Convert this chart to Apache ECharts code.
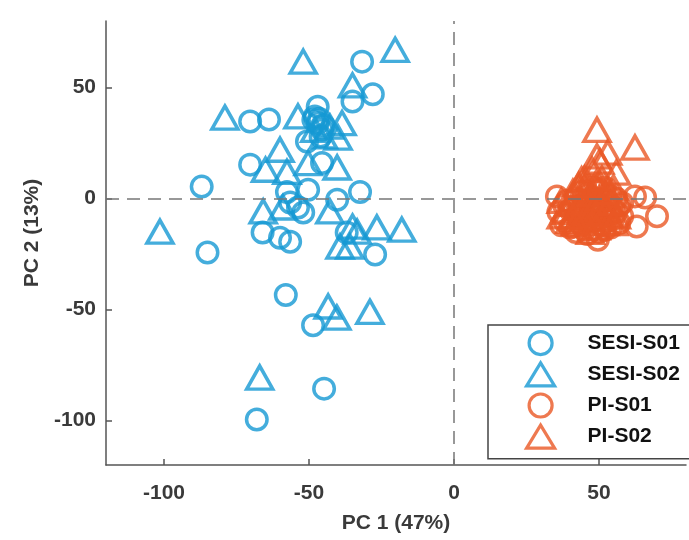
<!DOCTYPE html>
<html>
<head>
<meta charset="utf-8">
<script src="https://cdn.jsdelivr.net/npm/echarts@6/dist/echarts.min.js"></script>
<style>html,body{margin:0;padding:0;background:#fff}#c{width:689px;height:540px}</style>
</head>
<body>
<div id="c"></div>
<script>
// ---- data (PC1, PC2) ----
const seriesNames = ['SESI-S01', 'SESI-S02', 'PI-S01', 'PI-S02'];
const xTicks = [-100, -50, 0, 50];
const yTicks = [-100, -50, 0, 50];
const sesiS01 = [
  [-31.7,61.7],[-28,47],[-35,43.7],[-70.3,34.7],[-63.8,35.6],[-47,41.4],[-48,37],[-47,34],
  [-45.5,31],[-46,28],[-50.7,25.7],[-45.5,16],[-70.3,15.3],[-87,5.4],[-32.4,3],[-57.6,3],
  [-50.3,4],[-40.3,-0.5],[-56.5,-1.8],[-53.8,-4],[-52,-6.3],[-66,-15.3],[-60,-17.6],
  [-56.5,-19.4],[-37,-15.3],[-85,-24.3],[-27.2,-25.2],[-58,-43.4],[-48.6,-57],[-44.8,-85.6],[-68,-99.5],
  [-46.5,36],[-45,33],[-48.5,35.5]
];
const sesiS02 = [
  [-52,61.7],[-20.3,67],[-35,51],[-79,36.5],[-53.8,37],[-38.6,34],[-42.8,32.4],[-45,28],
  [-40,27.5],[-60,22],[-65,13],[-57.6,12],[-50.3,16],[-40.3,14],[-65.8,-5.8],[-59,-4],
  [-42.8,-5.8],[-101.4,-14.9],[-35,-12.6],[-26.6,-13],[-18,-14],[-33.4,-14.9],[-39.3,-21.6],
  [-35.9,-21.6],[-43.4,-48.6],[-40.4,-53.6],[-29,-51],[-67,-80.6],[-48,31]
];
const piS01 = [
  [35.5,1],[62.4,1],[65.9,0.5],[70,-8],[63,-12.6],[57,-11],[49.6,-18.5],[41,-12.6],[43.4,-3.6],
  [40,-5],[42,-8],[45,-2],[47,-6],[50,-3],[52,-8],[55,-4],[48,-10],[44,-12],[53,-1],[46,2],
  [50,4],[56,0],[38,-3],[43,-9],[51,-12],[54,-7],[58,-2],
  [36,-6],[38,-10],[39,-1],[41,-4],[42,0],[44,-6],[45,-14],[46,-10],[47,-2],[48,-14],[49,0],
  [49,-6],[51,-5],[52,-14],[53,-10],[54,1],[55,-9],[56,-6],[57,-3],[44,3],[48,5],[52,5],
  [40,-13],[46,-16],[54,-13],[42,-15],[50,-15],[37,-12],[58,-8],[47,6]
];
const piS02 = [
  [49.3,31],[62.4,23],[53,20.7],[50.3,16.7],[49.3,19],[56,11.7],[44,8.6],[37,-8],[47.6,13],
  [41,3],[45,5],[48,-1],[52,2],[46,-7],[50,-9],[55,5],[43,-4],[49,7],[53,-5],[40,-10],
  [37,-1],[39,-6],[42,-11],[44,-1],[45,-9],[47,2],[48,-5],[50,0],[51,-3],[52,-11],
  [54,-2],[56,-8],[45,9],[51,9],[43,6],[41,-8],[49,-13],[55,-11],[47,-15],[53,3]
];

const BLUE = '#1598d3', ORANGE = '#ea5724';
const FONT = '"Liberation Sans", Arial, Helvetica, sans-serif';
const LABEL_COLOR = '#3a3a3a';

function mk(name, data, color, symbol, size, extra) {
  return Object.assign({
    name, type: 'scatter', data, symbol, symbolSize: size,
    itemStyle: { color: 'rgba(0,0,0,0)', borderColor: color, borderWidth: 3.5 },
    emphasis: { disabled: true }
  }, extra || {});
}

const chart = echarts.init(document.getElementById('c'), null, { renderer: 'canvas' });
chart.setOption({
  animation: false,
  backgroundColor: '#fff',
  grid: { left: 106, right: 3, top: 21, bottom: 75, containLabel: false },
  xAxis: {
    type: 'value', min: -120, max: 80,
    name: 'PC 1 (47%)', nameLocation: 'middle', nameGap: 48,
    nameTextStyle: { fontFamily: FONT, fontWeight: 'bold', fontSize: 21, color: LABEL_COLOR },
    axisLine: { show: true, onZero: false, lineStyle: { color: '#555', width: 1.5 } },
    axisTick: { show: true, inside: true, length: 6, customValues: xTicks, lineStyle: { color: '#555', width: 1.5 } },
    axisLabel: { customValues: xTicks, margin: 18, fontFamily: FONT, fontWeight: 'bold', fontSize: 21, color: LABEL_COLOR },
    splitLine: { show: false }
  },
  yAxis: {
    type: 'value', min: -120, max: 80,
    name: 'PC 2 (13%)', nameLocation: 'middle', nameGap: 62,
    nameTextStyle: { fontFamily: FONT, fontWeight: 'bold', fontSize: 21, color: LABEL_COLOR, padding: [0, 0, 0, 20] },
    axisLine: { show: true, onZero: false, lineStyle: { color: '#555', width: 1.5 } },
    axisTick: { show: true, inside: true, length: 6, customValues: yTicks, lineStyle: { color: '#555', width: 1.5 } },
    axisLabel: { customValues: yTicks, margin: 10, fontFamily: FONT, fontWeight: 'bold', fontSize: 21, color: LABEL_COLOR },
    splitLine: { show: false }
  },
  legend: {
    orient: 'vertical', left: 488, top: 325,
    padding: [5, 30, 9, 37], itemGap: 5, itemWidth: 28, itemHeight: 23,
    backgroundColor: '#fff', borderColor: '#444', borderWidth: 1.5, borderRadius: 0,
    itemStyle: { borderWidth: 3.2, color: 'rgba(0,0,0,0)' },
    textStyle: { fontFamily: FONT, fontWeight: 'bold', fontSize: 21, lineHeight: 22, color: '#111', padding: [0, 0, 0, 28] },
    data: seriesNames
  },
  series: [
    mk(seriesNames[0], sesiS01, BLUE, 'circle', 20.5, {
      markLine: {
        silent: true, symbol: 'none', label: { show: false },
        lineStyle: { color: '#777', type: [13, 8], width: 1.5 },
        data: [{ xAxis: 0 }, { yAxis: 0 }]
      }
    }),
    mk(seriesNames[1], sesiS02, BLUE, 'triangle', [26, 23]),
    mk(seriesNames[2], piS01, ORANGE, 'circle', 20.5),
    mk(seriesNames[3], piS02, ORANGE, 'triangle', [26, 23])
  ]
});
</script>
</body>
</html>
